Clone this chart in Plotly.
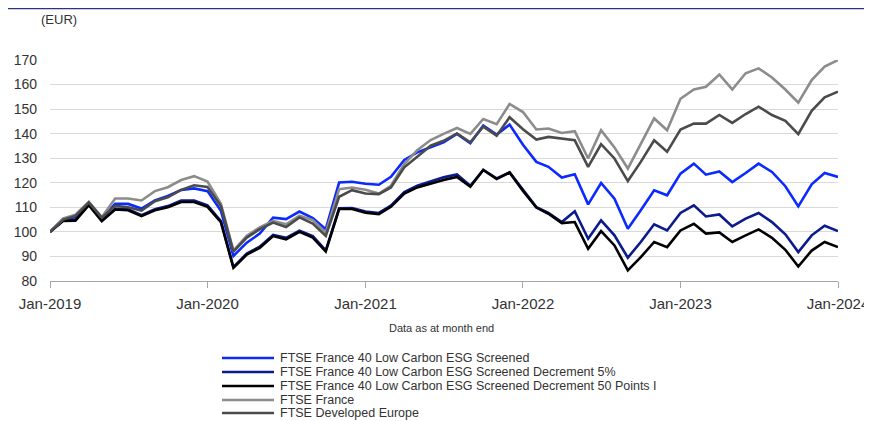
import pandas as pd
import plotly.graph_objects as go

months = pd.date_range("2019-01-01", periods=61, freq="MS")

series_names = [
    "FTSE France 40 Low Carbon ESG Screened",
    "FTSE France 40 Low Carbon ESG Screened Decrement 5%",
    "FTSE France 40 Low Carbon ESG Screened Decrement 50 Points I",
    "FTSE France",
    "FTSE Developed Europe",
]

esg_screened = [
    100, 105.4, 106, 111.3, 105.4, 111.4, 111.4, 109.5, 112.8, 114.6, 117.1, 117.7,
    116.6, 108.6, 90.2, 95.6, 99.3, 105.8, 105.2, 108.3, 105.6, 101.1, 120.1, 120.4,
    119.6, 119.2, 122.4, 129.3, 132.4, 134.4, 136.5, 139.9, 136.1, 143.3, 139.6, 143.7,
    135.5, 128.5, 126.5, 122.1, 123.5, 111.2, 119.9, 113.5, 101.3, 108.8, 116.9, 114.9,
    123.7, 127.8, 123.3, 124.6, 120.3, 124.0, 127.8, 124.4, 118.6, 110.4, 119.4, 124.0,
    122.4,
]
decrement_5pct = [
    100, 104.8, 105, 111.2, 104.6, 109.4, 109.2, 106.8, 109.2, 110.5, 112.8, 112.8,
    110.8, 104.4, 85.6, 91.2, 94, 98.8, 97.6, 100.5, 98.3, 92.5, 109.6, 109.7,
    108.3, 107.7, 110.7, 116.2, 118.8, 120.5, 122.2, 123.4, 118.8, 125.2, 121.8, 124.2,
    117, 110.1, 107.7, 104, 108.4, 97.2, 104.7, 98.6, 89.5, 95.9, 103.1, 100.6,
    107.7, 110.8, 106.3, 107.1, 102.2, 105.4, 107.7, 104, 99, 91.8, 98.6, 102.5,
    100.3,
]
decrement_50pts = [
    100, 104.5, 104.6, 110.9, 104.4, 109.1, 108.8, 106.4, 108.8, 110, 112.2, 112.2,
    110.2, 104, 85.4, 90.8, 93.5, 98.3, 97, 100, 97.7, 92, 109.3, 109.3,
    107.8, 107.2, 110.2, 115.6, 118.1, 119.7, 121.1, 122.4, 118.4, 125.2, 121.5, 124.2,
    116.7, 109.9, 107.4, 103.6, 104, 93.1, 100.3, 94.5, 84.3, 89.7, 95.9, 93.8,
    100.6, 103.3, 99.3, 99.8, 95.9, 98.6, 101, 97.6, 92.7, 85.9, 92.4, 95.9,
    93.8,
]
ftse_france = [
    100, 105.5, 107, 112.2, 106, 113.6, 113.6, 112.8, 116.6, 118.2, 121.1, 122.7,
    120.5, 111.5, 92.4, 98.4, 101.8, 104.5, 103.1, 106.6, 104.8, 99.7, 117.4, 118.1,
    117.2, 115.6, 118.8, 127.6, 133.3, 137.4, 139.9, 142.3, 139.9, 146, 143.9, 152.1,
    148.8, 141.7, 142.1, 140.3, 141, 129.9, 141.4, 134.4, 125.8, 136, 146.2, 141.4,
    154.2, 158, 159.1, 164.1, 158, 164.6, 166.6, 162.9, 158, 152.6, 161.8, 167.3,
    170,
]
ftse_dev_europe = [
    100, 105, 106.5, 112, 105.8, 110.6, 110, 108.7, 112.5, 114.1, 117.1, 119,
    118.3, 110.5, 92, 97.7, 101.1, 103.8, 102, 105.9, 103.4, 98.4, 114.3, 117,
    115.6, 115.4, 118.1, 126.3, 130.6, 135.1, 137.1, 140.1, 136.5, 142.9, 139.2, 146.7,
    141.8, 137.6, 138.7, 138, 137.3, 126.5, 135.7, 129.9, 120.7, 128.5, 137.3, 132.6,
    141.7, 144.1, 144.1, 147.6, 144.4, 148, 151, 147.6, 145.2, 139.8, 149.3, 154.8,
    157.1,
]

all_series = [esg_screened, decrement_5pct, decrement_50pts, ftse_france, ftse_dev_europe]
colors = ["#0a2aff", "#0b1a8c", "#000000", "#8c8c8c", "#4b4b4b"]

# page has an 8px body margin
OFF = 8
W, H = 864, 413
L, T = 42, 52
PW, PH = 788, 221
R, B = W - L - PW, H - T - PH


def px_x(x_screen):
    return (x_screen - OFF - L) / PW


def px_y(y_screen):
    return (T + PH - (y_screen - OFF)) / PH


fig = go.Figure()
for name, vals, col in zip(series_names, all_series, colors):
    fig.add_trace(go.Scatter(x=months, y=vals, mode="lines", name=name,
                             line=dict(color=col, width=2.6), showlegend=False))

shapes = []
annotations = []

# top rule
shapes.append(dict(type="line", xref="paper", yref="paper",
                   x0=px_x(OFF), x1=px_x(872), y0=px_y(8.5), y1=px_y(8.5),
                   line=dict(color="#2a3580", width=1.3)))

# manual legend
legend_y = [358, 372, 386, 400, 413]
for name, col, ly in zip(series_names, colors, legend_y):
    shapes.append(dict(type="line", xref="paper", yref="paper",
                       x0=px_x(222), x1=px_x(274), y0=px_y(ly), y1=px_y(ly),
                       line=dict(color=col, width=2.6)))
    annotations.append(dict(xref="paper", yref="paper", x=px_x(278), y=px_y(ly),
                            xanchor="left", yanchor="middle", showarrow=False,
                            text=name, font=dict(size=12.5, color="#333333")))

annotations.append(dict(xref="paper", yref="paper", x=px_x(59), y=px_y(20),
                        xanchor="center", yanchor="middle", showarrow=False,
                        text="(EUR)", font=dict(size=13, color="#333333")))
annotations.append(dict(xref="paper", yref="paper", x=px_x(441), y=px_y(328),
                        xanchor="center", yanchor="middle", showarrow=False,
                        text="Data as at month end", font=dict(size=11, color="#333333")))

fig.update_layout(
    width=W, height=H,
    margin=dict(l=L, r=R, t=T, b=B, pad=0, autoexpand=False),
    paper_bgcolor="white", plot_bgcolor="white",
    font=dict(family="Liberation Sans, Arial, sans-serif", color="#333333"),
    shapes=shapes, annotations=annotations,
    xaxis=dict(
        type="date", range=["2019-01-01", "2024-01-01"],
        tick0="2019-01-01", dtick="M12", tickformat="%b-%Y",
        showgrid=False, zeroline=False, automargin=False,
        showline=True, linecolor="#a6a6a6", linewidth=1,
        ticks="outside", ticklen=6, tickcolor="#a6a6a6", tickwidth=1,
        tickfont=dict(size=15, color="#333333"), ticklabelstandoff=3,
    ),
    yaxis=dict(
        range=[80, 170], dtick=10, tick0=80, automargin=False,
        showgrid=True, gridcolor="#d9d9d9", gridwidth=1,
        zeroline=False, showline=False, ticks="",
        tickfont=dict(size=14, color="#333333"), ticklabelstandoff=12,
    ),
)

fig.write_html("out.html")
